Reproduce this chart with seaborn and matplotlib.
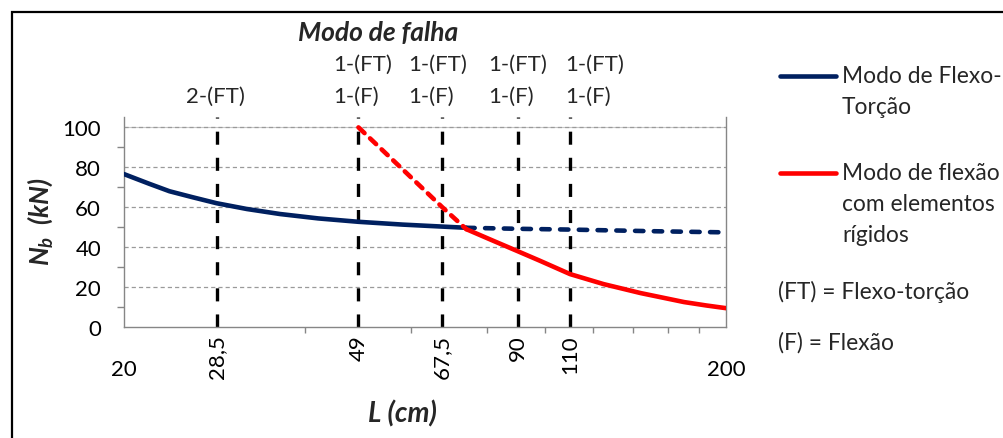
import matplotlib
matplotlib.use("Agg")
import matplotlib.pyplot as plt
from matplotlib.lines import Line2D
from matplotlib.patches import Rectangle
from matplotlib.ticker import FixedLocator, NullFormatter
import seaborn as sns
import pandas as pd

# ---- data -------------------------------------------------------------
# flexural-torsional mode: governing (solid) and non-governing (dashed) parts
ft_L = [20, 22, 23.8, 26, 28.5, 32, 36.3, 42, 49, 58, 67.5, 74]
ft_N = [76.6, 71.8, 68.0, 65.0, 62.0, 59.1, 56.6, 54.4, 52.7, 51.3, 50.3, 49.7]
ft_dash_L = [74, 90, 110, 150, 200]
ft_dash_N = [49.7, 49.2, 48.8, 48.0, 47.4]

# flexural mode with rigid elements: non-governing (dashed) and governing (solid)
fl_dash_L = [49, 58, 67.5, 74]
fl_dash_N = [100, 79, 60, 49.0]
fl_L = [74, 82, 90, 98, 110, 125, 144, 170, 185, 200]
fl_N = [49.0, 43.2, 38.0, 33.2, 26.5, 21.5, 17.0, 12.5, 10.8, 9.4]

# tested lengths and observed failure modes
test_L = [28.5, 49, 67.5, 90, 110]
test_L_labels = ["28,5", "49", "67,5", "90", "110"]
mode_line1 = ["", "1-(FT)", "1-(FT)", "1-(FT)", "1-(FT)"]
mode_line2 = ["2-(FT)", "1-(F)", "1-(F)", "1-(F)", "1-(F)"]

x_major = [20, 200]
x_minor = [40, 60, 80, 100, 120, 140, 160, 180]
y_ticks = [0, 20, 40, 60, 80, 100]
y_minor = [10, 30, 50, 70, 90]

legend_ft = ["Modo de Flexo-", "Torção"]
legend_fl = ["Modo de flexão", "com elementos", "rígidos"]
notes = ["(FT) = Flexo-torção", "(F) = Flexão"]

# ---- style ------------------------------------------------------------
sns.set_theme(style="white")
plt.rcParams["font.family"] = ["Lato", "DejaVu Sans"]
plt.rcParams["lines.scale_dashes"] = False
plt.rcParams["mathtext.fontset"] = "custom"
plt.rcParams["mathtext.it"] = "Lato:bold:italic"
plt.rcParams["mathtext.rm"] = "Lato:bold"
FS = 16
FS_LEG = 16.4
FS_TITLE = 19
BLUE = "#002060"
RED = "#FF0000"
GRID = "#9a9a9a"
SPINE = "#868686"
LW = 3.3

W, H = 1004, 439
fig = plt.figure(figsize=(W / 100, H / 100), dpi=100)
fig.patch.set_facecolor("white")


def fx(px):
    return px / W


def fy(py):
    return 1 - py / H


ax = fig.add_axes([fx(124), fy(328), fx(726.5) - fx(124), fy(118) - fy(328)])
ax.set_facecolor("white")
ax.set_xscale("log")
ax.set_xlim(20, 200)
ax.set_ylim(0, 105.2)

# horizontal grid
ax.axhline(100, color="#c8c8c8", lw=0.8, zorder=0.5)
for yv in y_ticks[1:]:
    ax.axhline(yv, color=GRID, lw=0.9, linestyle=(0, (3.0, 2.2)), zorder=0.6)

# vertical lines at tested lengths
for xv in test_L:
    ax.plot([xv, xv], [0, 105.2], color="black", lw=2.4,
            linestyle=(0, (9.4, 9.4)), solid_capstyle="butt", zorder=2)

# curves
segments = [
    (ft_L, ft_N, BLUE, "-"),
    (ft_dash_L, ft_dash_N, BLUE, (0, (6.0, 7.5))),
    (fl_dash_L, fl_dash_N, RED, (0, (6.0, 5.5))),
    (fl_L, fl_N, RED, "-"),
]
for L, N, col, ls in segments:
    df = pd.DataFrame({"L": L, "N": N})
    sns.lineplot(data=df, x="L", y="N", ax=ax, color=col, lw=LW,
                 linestyle=ls, sort=False, estimator=None,
                 dash_capstyle="round", solid_capstyle="round",
                 solid_joinstyle="round", zorder=3)

ax.set_xlabel("")
ax.set_ylabel("")

# spines
for side in ["left", "bottom", "right"]:
    ax.spines[side].set_visible(True)
    ax.spines[side].set_color(SPINE)
    ax.spines[side].set_linewidth(1.0)
ax.spines["top"].set_visible(False)

# ticks
ax.xaxis.set_major_locator(FixedLocator(x_major))
ax.xaxis.set_minor_locator(FixedLocator(x_minor))
ax.xaxis.set_minor_formatter(NullFormatter())
ax.set_xticklabels([str(v) for v in x_major])
ax.yaxis.set_major_locator(FixedLocator(y_ticks))
ax.yaxis.set_minor_locator(FixedLocator(y_minor))
ax.set_yticklabels([str(v) for v in y_ticks])
ax.tick_params(axis="x", which="major", direction="out", length=6,
               width=1.0, color=SPINE, pad=17, labelsize=FS, labelcolor="black")
ax.tick_params(axis="x", which="minor", direction="out", length=4,
               width=1.0, color=SPINE, bottom=True)
ax.tick_params(axis="y", which="major", direction="out", length=6.5,
               width=1.0, color=SPINE, pad=10, labelsize=FS, labelcolor="black")
ax.tick_params(axis="y", which="minor", direction="out", length=5,
               width=1.0, color=SPINE, left=True)

# rotated length labels
for xv, lab in zip(test_L, test_L_labels):
    ax.annotate(lab, xy=(xv, 0), xycoords=("data", "axes fraction"),
                xytext=(0, -5), textcoords="offset points", rotation=90,
                ha="center", va="top", fontsize=FS, color="black")

# failure-mode labels above the plot
label_dx_px = [-31, -25, -34, -29, -5]
for xv, l1, l2, dx in zip(test_L, mode_line1, mode_line2, label_dx_px):
    if l1:
        ax.annotate(l1, xy=(xv, 1), xycoords=("data", "axes fraction"),
                    xytext=(dx * 0.72, 53 * 0.72), textcoords="offset points",
                    ha="left", va="center", fontsize=FS, annotation_clip=False)
    ax.annotate(l2, xy=(xv, 1), xycoords=("data", "axes fraction"),
                xytext=(dx * 0.72, 21 * 0.72), textcoords="offset points",
                ha="left", va="center", fontsize=FS, annotation_clip=False)

fig.text(fx(378), fy(33), "Modo de falha", ha="center", va="center",
         fontsize=FS_TITLE, fontweight="bold", fontstyle="italic")

# axis titles
fig.text(fx(40), fy(222), r"$N_b$  (kN)", rotation=90,
         ha="center", va="center", fontsize=FS_TITLE, fontweight="bold",
         fontstyle="italic")
fig.text(fx(402), fy(414), "L (cm)", ha="center", va="center",
         fontsize=FS_TITLE + 1, fontweight="bold", fontstyle="italic")

# legend
for y0, col, lines in [(77, BLUE, legend_ft), (174, RED, legend_fl)]:
    fig.add_artist(Line2D([fx(780), fx(836)], [fy(y0), fy(y0)], color=col,
                          lw=LW, solid_capstyle="round",
                          transform=fig.transFigure))
    for i, t in enumerate(lines):
        fig.text(fx(842), fy(y0 + 31 * i), t, ha="left", va="center",
                 fontsize=FS_LEG)
for i, t in enumerate(notes):
    fig.text(fx(778), fy(292 + 51 * i), t, ha="left", va="center",
             fontsize=FS_LEG)

# outer frame
fig.add_artist(Rectangle((fx(12), -0.2), 1.2, fy(13) + 0.2, fill=False,
                         edgecolor="black", lw=1.6,
                         transform=fig.transFigure))

fig.savefig("out.png", dpi=100)
